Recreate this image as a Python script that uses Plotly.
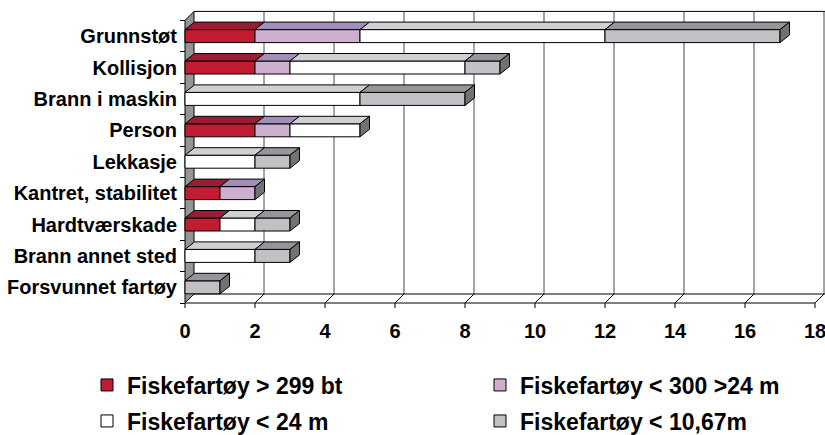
import plotly.graph_objects as go

# ---------------------------------------------------------------- data
categories = [
    "Grunnstøt",
    "Kollisjon",
    "Brann i maskin",
    "Person",
    "Lekkasje",
    "Kantret, stabilitet",
    "Hardtværskade",
    "Brann annet sted",
    "Forsvunnet fartøy",
]
over_299_bt = [2, 2, 0, 2, 0, 1, 1, 0, 0]
under_300_over_24m = [3, 1, 0, 1, 0, 1, 0, 0, 0]
under_24m = [7, 5, 5, 2, 2, 0, 1, 2, 0]
under_10_67m = [5, 1, 3, 0, 1, 0, 1, 1, 1]

series_names = [
    "Fiskefartøy > 299 bt",
    "Fiskefartøy < 300 >24 m",
    "Fiskefartøy < 24 m",
    "Fiskefartøy < 10,67m",
]
x_tick_values = [0, 2, 4, 6, 8, 10, 12, 14, 16, 18]

# ---------------------------------------------------------------- styling
front_colors = ["#C21C32", "#CDB0CE", "#FFFFFF", "#C0C0C5"]
top_colors = ["#9A1E33", "#A28FB9", "#CFCFD4", "#96969A"]
side_color = "#6F7373"
wall_color = "#959595"
FONT = "Liberation Sans, Arial, sans-serif"

W, H = 825, 435
M_L, M_R, M_T, M_B = 175, 0, 4, 125
PX_X = 35.0          # pixels per unit on the value axis
PX_Y = 31.4          # pixels per category step
plot_w = W - M_L - M_R
plot_h = H - M_T - M_B

x_lo = -10 / PX_X
x_hi = x_lo + plot_w / PX_X
y_lo = -0.5 - 7 / PX_Y
y_hi = y_lo + plot_h / PX_Y

# depth of the 3-D box (walls) and of the bars, in axis units
wall_dx, wall_dy = 9 / PX_X, 9 / PX_Y
bar_dx, bar_dy = 9.5 / PX_X, 7.5 / PX_Y
bar_half = 6.5 / PX_Y

# legend grid: two columns, two rows (pixel positions of text start / row centre)
legend_cols = [127, 520]
legend_rows = [385, 421]
legend_cells = [(0, 0), (1, 0), (0, 1), (1, 1)]   # (column, row) per series

n = len(categories)
y_pos = [n - 1 - i for i in range(n)]
y_bottom, y_top = -0.5, n - 0.5
x_max = x_tick_values[-1]

series_values = [over_299_bt, under_300_over_24m, under_24m, under_10_67m]


def poly(points):
    return "M " + " L ".join(f"{x},{y}" for x, y in points) + " Z"


shapes = []
line_k = dict(color="black", width=1)

# back wall top edge
shapes.append(dict(type="line", xref="x", yref="y", layer="below",
                   x0=wall_dx, y0=y_top + wall_dy, x1=x_hi, y1=y_top + wall_dy,
                   line=line_k))
# gridlines on the back wall
for v in x_tick_values[1:]:
    shapes.append(dict(type="line", xref="x", yref="y", layer="below",
                       x0=v + wall_dx, y0=y_bottom + wall_dy,
                       x1=v + wall_dx, y1=y_top + wall_dy,
                       line=dict(color="#4A4A4A", width=1)))
# floor
shapes.append(dict(type="path", xref="x", yref="y", layer="below",
                   path=poly([(0, y_bottom), (x_max, y_bottom),
                              (x_max + wall_dx, y_bottom + wall_dy),
                              (wall_dx, y_bottom + wall_dy)]),
                   fillcolor="white", line=line_k))
shapes.append(dict(type="line", xref="x", yref="y", layer="below",
                   x0=x_max + wall_dx, y0=y_bottom + wall_dy,
                   x1=x_hi, y1=y_bottom + wall_dy, line=line_k))
for v in x_tick_values:
    shapes.append(dict(type="line", xref="x", yref="y", layer="below",
                       x0=v, y0=y_bottom, x1=v + wall_dx, y1=y_bottom + wall_dy,
                       line=line_k))
    # tick marks under the front edge
    shapes.append(dict(type="line", xref="x", yref="y", layer="below",
                       x0=v, y0=y_bottom, x1=v, y1=y_bottom - 5 / PX_Y,
                       line=line_k))
# left side wall
shapes.append(dict(type="path", xref="x", yref="y", layer="below",
                   path=poly([(0, y_bottom), (0, y_top),
                              (wall_dx, y_top + wall_dy),
                              (wall_dx, y_bottom + wall_dy)]),
                   fillcolor=wall_color, line=line_k))

# ---------------------------------------------------------------- bars
fig = go.Figure()
bases = [0] * n
legend_ids = []
for s, (name, vals) in enumerate(zip(series_names, series_values)):
    xs, bs = [], []
    for i, v in enumerate(vals):
        xs.append(v if v > 0 else None)
        bs.append(bases[i])
        if v > 0:
            x0, x1 = bases[i], bases[i] + v
            yt = y_pos[i] + bar_half
            shapes.append(dict(type="path", xref="x", yref="y", layer="above",
                               path=poly([(x0, yt), (x1, yt),
                                          (x1 + bar_dx, yt + bar_dy),
                                          (x0 + bar_dx, yt + bar_dy)]),
                               fillcolor=top_colors[s], line=line_k))
        bases[i] += v
    legend_id = "legend" if s == 0 else f"legend{s + 1}"
    legend_ids.append(legend_id)
    fig.add_trace(go.Bar(
        y=y_pos, x=xs, base=bs, orientation="h", name=name,
        width=2 * bar_half,
        marker=dict(color=front_colors[s], line=dict(color="black", width=1)),
        legend=legend_id,
        hovertemplate="%{x}<extra>" + name + "</extra>",
    ))

# right-hand end faces of each bar
for i, total in enumerate(bases):
    yb, yt = y_pos[i] - bar_half, y_pos[i] + bar_half
    shapes.append(dict(type="path", xref="x", yref="y", layer="above",
                       path=poly([(total, yb), (total, yt),
                                  (total + bar_dx, yt + bar_dy),
                                  (total + bar_dx, yb + bar_dy)]),
                       fillcolor=side_color, line=line_k))

legends = {}
for s, legend_id in enumerate(legend_ids):
    col, row = legend_cells[s]
    legends[legend_id] = dict(
        x=(legend_cols[col] - 40 - M_L) / plot_w,
        y=1 - (legend_rows[row] - M_T) / plot_h,
        xanchor="left", yanchor="middle", orientation="v",
        font=dict(family=FONT, size=23, color="black", weight="bold"),
        bgcolor="rgba(0,0,0,0)", borderwidth=0,
        itemclick=False, itemdoubleclick=False,
    )

fig.update_layout(
    width=W, height=H,
    margin=dict(l=M_L, r=M_R, t=M_T, b=M_B, pad=0, autoexpand=False),
    paper_bgcolor="white", plot_bgcolor="white",
    barmode="overlay",
    shapes=shapes,
    xaxis=dict(range=[x_lo, x_hi], tickvals=x_tick_values, ticks="",
               showgrid=False, zeroline=False, showline=False,
               ticklabelstandoff=7, ticklabeloverflow="allow",
               tickfont=dict(family=FONT, size=20, color="black", weight="bold"),
               fixedrange=True),
    yaxis=dict(range=[y_lo, y_hi], tickvals=y_pos, ticktext=categories,
               ticks="", anchor="free", position=10 / plot_w,
               showgrid=False, zeroline=False, showline=False,
               ticklabelstandoff=8,
               tickfont=dict(family=FONT, size=20, color="black", weight="bold"),
               minor=dict(tickvals=[k - 0.5 for k in range(n + 1)],
                          ticks="outside", ticklen=5, tickcolor="black",
                          tickwidth=1, showgrid=False),
               fixedrange=True),
    showlegend=True,
    **legends,
)

fig.write_html("out.html")
